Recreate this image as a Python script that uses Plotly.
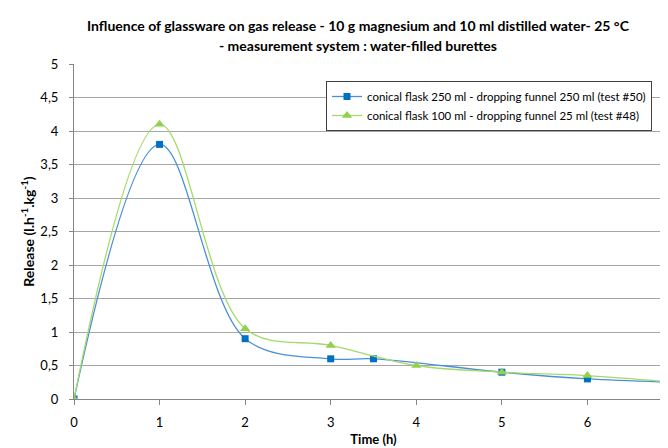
import plotly.graph_objects as go

blue_x = [0, 1, 2, 3, 3.5, 5, 6, 7]
blue_y = [0, 3.8, 0.9, 0.6, 0.6, 0.4, 0.3, 0.25]
green_x = [0, 1, 2, 3, 4, 5, 6, 7]
green_y = [0, 4.1, 1.05, 0.8, 0.5, 0.4, 0.35, 0.25]
blue_name = "conical flask 250 ml - dropping funnel 250 ml (test #50)"
green_name = "conical flask 100 ml - dropping funnel 25 ml (test #48)"
x_ticks = [0, 1, 2, 3, 4, 5, 6, 7]
y_ticks = [0, 0.5, 1, 1.5, 2, 2.5, 3, 3.5, 4, 4.5, 5]
title_lines = [
    "Influence of glassware on gas release - 10 g magnesium and 10 ml distilled water- 25 °C",
    "- measurement system : water-filled burettes",
]

FONT = "Lato"
L, R, T, B = 66, 3, 56, 57
W, H = 668, 448
plot_w = W - L - R
plot_h = H - T - B

fig = go.Figure()
fig.add_trace(go.Scatter(
    x=blue_x, y=blue_y, name=blue_name, mode="lines+markers",
    line=dict(color="#4A90D9", width=1.3, shape="spline", smoothing=1.0),
    marker=dict(symbol="square", size=7, color="#0070C0"),
))
fig.add_trace(go.Scatter(
    x=green_x, y=green_y, name=green_name, mode="lines+markers",
    line=dict(color="#A6D96A", width=1.3, shape="spline", smoothing=1.0),
    marker=dict(symbol="triangle-up", size=9, color="#92D050"),
))

fig.update_layout(
    width=W, height=H,
    paper_bgcolor="white", plot_bgcolor="white",
    separators=",.",
    font=dict(family=FONT, size=13, color="#000000"),
    margin=dict(l=L, r=R, t=T, b=B, autoexpand=False),
    xaxis=dict(
        range=[0, 7], tickvals=x_ticks, showgrid=False, automargin=False,
        showline=True, linecolor="#868686", linewidth=1,
        ticks="outside", tickcolor="#868686", ticklen=5, ticklabelstandoff=6,
        ticklabeloverflow="allow",
        title=dict(text="<b>Time (h)</b>", font=dict(size=13), standoff=6),
        zeroline=False,
    ),
    yaxis=dict(
        range=[0, 5], tickvals=y_ticks, showgrid=True, gridcolor="#A6A6A6",
        gridwidth=1, showline=True, linecolor="#868686", linewidth=1, automargin=False,
        ticks="outside", tickcolor="#868686", ticklen=4, ticklabelstandoff=8,
        title=dict(text="<b>Release (l.h<sup>-1</sup>.kg<sup>-1</sup>)</b>", font=dict(size=14), standoff=2),
        zeroline=False,
    ),
    legend=dict(
        x=(318 - L) / plot_w, y=(H - B - 73) / plot_h,
        xanchor="left", yanchor="top",
        bgcolor="white", bordercolor="#404040", borderwidth=1,
        font=dict(size=11.5), tracegroupgap=0, itemwidth=30,
    ),
)

for i, line in enumerate(title_lines):
    fig.add_annotation(
        text="<b>" + line + "</b>", showarrow=False,
        xref="paper", yref="paper",
        x=(350 - L) / plot_w, xanchor="center",
        y=(H - B - (18 + 20 * i)) / plot_h, yanchor="middle",
        font=dict(family=FONT, size=14, color="#000000"),
    )

fig.write_html("out.html")
